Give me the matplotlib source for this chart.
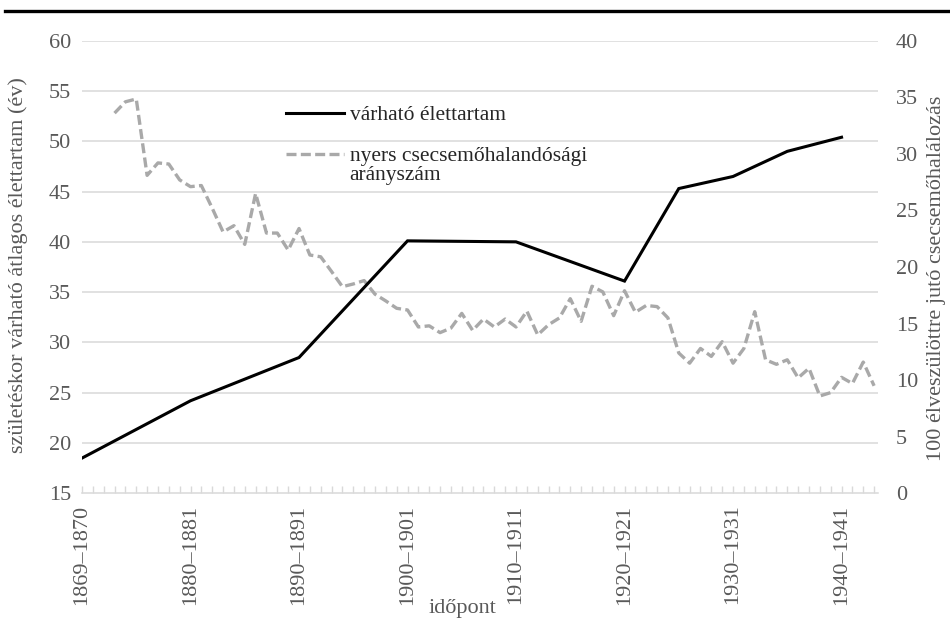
import numpy as np
import matplotlib
matplotlib.use("Agg")
import matplotlib.pyplot as plt
from matplotlib.lines import Line2D

plt.rcParams['font.family'] = ['Liberation Serif', 'DejaVu Serif']

# category axis: one slot per year, 1870 ... 1943
first_year = 1870
tick_years = [1870, 1880, 1890, 1900, 1910, 1920, 1930, 1940]
tick_labels = ['1869–1870', '1880–1881', '1890–1891', '1900–1901',
               '1910–1911', '1920–1921', '1930–1931', '1940–1941']

# life expectancy at birth (years), left axis
life_years = [1870, 1880, 1890, 1900, 1910, 1920, 1925, 1930, 1935, 1940]
life_exp = [18.5, 24.2, 28.5, 40.1, 40.0, 36.1, 45.3, 46.5, 49.0, 50.4]

# crude infant mortality (per 100 live births), right axis
infant_years = list(range(1873, 1944))
infant_mort = [33.6, 34.6, 34.85, 28.1, 29.2, 29.1, 27.7, 27.1, 27.2, 25.2,
               23.1, 23.65, 22.0, 26.5, 23.0, 23.0, 21.5, 23.4, 21.06, 20.9,
               19.6, 18.26, 18.5, 18.8, 17.6, 17.0, 16.35, 16.2, 14.7, 14.8,
               14.2, 14.6, 15.9, 14.4, 15.4, 14.7, 15.4, 14.7, 16.1, 14.0,
               14.9, 15.5, 17.2, 15.2, 18.3, 17.8, 15.7, 17.9, 16.0, 16.6,
               16.5, 15.5, 12.4, 11.5, 12.8, 12.1, 13.4, 11.5, 12.8, 16.05,
               11.8, 11.4, 11.8, 10.2, 11.05, 8.6, 8.9, 10.25, 9.7, 11.6, 9.5]

left_lim = (15, 60)
right_lim = (0, 40)

tick_col = '#595959'
grid_col = '#d9d9d9'
fs = 16
leg_fs = 15.5

fig = plt.figure(figsize=(9.5, 6.24), dpi=100)
ax = fig.add_axes([82 / 950, 1 - 493.3 / 624, 796 / 950, 452.6 / 624])
ax2 = ax.twinx()
ax.set_zorder(ax2.get_zorder() + 1)
ax.patch.set_visible(False)

x_life = np.array(life_years) - first_year
x_inf = np.array(infant_years) - first_year

# gridlines belong to the left scale, drawn behind both series
for v in np.arange(left_lim[0] + 5, left_lim[1] + 1, 5):
    r = (v - left_lim[0]) / (left_lim[1] - left_lim[0]) * right_lim[1]
    ax2.axhline(r, color=grid_col, lw=1.1, zorder=0)

l2, = ax2.plot(x_inf, infant_mort, color='#a9a9a9', lw=2.4,
               dashes=(3.0, 1.3), dash_capstyle='butt')
l1, = ax.plot(x_life, life_exp, color='black', lw=2.2,
              solid_joinstyle='miter')

ax.set_xlim(0, 73.36)
ax.set_ylim(*left_lim)
ax2.set_ylim(*right_lim)
ax.set_yticks(np.arange(15, 61, 5))
ax2.set_yticks(np.arange(0, 41, 5))

ax.set_xticks(np.array(tick_years) - first_year)
ax.set_xticklabels(tick_labels, rotation=90)
ax.set_xticks(np.arange(0, 74), minor=True)

for a in (ax, ax2):
    for s in a.spines.values():
        s.set_visible(False)
ax.spines['bottom'].set_visible(True)
ax.spines['bottom'].set_color(grid_col)
ax.spines['bottom'].set_linewidth(1.1)

ax.tick_params(axis='x', which='both', direction='in', length=5,
               color=grid_col, width=1, labelsize=fs, labelcolor=tick_col,
               pad=8)
ax.tick_params(axis='y', length=0, labelsize=fs, labelcolor=tick_col, pad=8)
ax2.tick_params(axis='y', length=0, labelsize=fs, labelcolor=tick_col, pad=13)

fig.text(18 / 950, 1 - 265 / 624,
         'születéskor várható átlagos élettartam (év)', rotation=90,
         ha='center', va='center', fontsize=fs, color=tick_col)
fig.text(936 / 950, 1 - 278 / 624,
         '100 élveszülöttre jutó csecsemőhalálozás', rotation=90,
         ha='center', va='center', fontsize=fs, color=tick_col)
fig.text(462 / 950, 1 - 608 / 624, 'időpont', ha='center', va='center',
         fontsize=fs, color=tick_col)

leg = ax.legend([l1, l2], ['várható élettartam',
                           'nyers csecsemőhalandósági\narányszám'],
                loc='upper left', bbox_to_anchor=(286 / 950, 1 - 105 / 624),
                bbox_transform=fig.transFigure, frameon=False,
                fontsize=leg_fs, handlelength=2.7, handletextpad=0.25,
                borderpad=0, borderaxespad=0, labelspacing=1.0)
for t in leg.get_texts():
    t.set_color('#262626')
    t.set_linespacing(1.05)
# keep the dashed key level with the first line of its two-line label
leg.legend_handles[1].set_ydata(leg.legend_handles[1].get_ydata() + 8)

# heavy rule across the top of the figure
fig.add_artist(Line2D([5 / 950, 1], [1 - 11 / 624, 1 - 11 / 624],
                      color='black', lw=2.4, transform=fig.transFigure))

fig.savefig('out.png', dpi=100)
